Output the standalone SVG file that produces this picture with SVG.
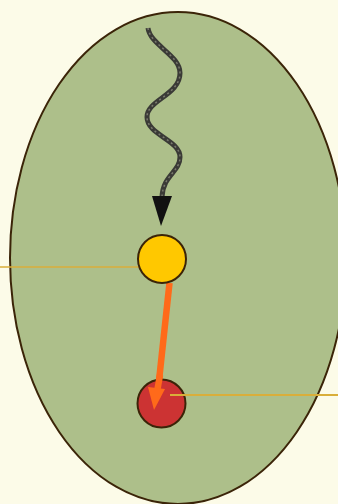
<svg xmlns="http://www.w3.org/2000/svg" width="338" height="504" viewBox="0 0 338 504">
<defs>
<style>
.node{stroke:#3b2408;stroke-width:2}
.lead{stroke:#d9ae3a;stroke-width:2;fill:none}
.wave{fill:none}
</style>
</defs>
<rect width="338" height="504" fill="#fcfbe8"/>
<g id="cell">
<ellipse cx="178" cy="258" rx="168" ry="246" fill="#adbf8a" stroke="#3b2408" stroke-width="2"/>
</g>
<g id="connectors">
<line class="lead" x1="0" y1="267" x2="140" y2="267" opacity="0.75"/>
<line class="lead" x1="170" y1="395" x2="338" y2="395"/>
<path class="wave" d="M148,28 C150,45 180,55 180,73 C180,95 147,100 147,117 C147,135 180,140 180,157 C180,172 163,175 162,197" stroke="#3a3a36" stroke-width="5"/>
<path class="wave" d="M148,28 C150,45 180,55 180,73 C180,95 147,100 147,117 C147,135 180,140 180,157 C180,172 163,175 162,197" stroke="#7a7a6e" stroke-width="1.5" stroke-dasharray="2 3"/>
<polygon points="152,196 172,196 161,226" fill="#111"/>
<line x1="169.5" y1="283" x2="158" y2="390" stroke="#ff6a1a" stroke-width="6.5"/>
</g>
<g id="photon-absorber">
<circle class="node" cx="162" cy="259" r="24" fill="#ffc800"/>
</g>
<g id="acceptor">
<circle class="node" cx="161.5" cy="403.5" r="24" fill="#cc3333"/>
</g>
<line class="lead" x1="170" y1="395" x2="186" y2="395"/>
<line x1="160" y1="375" x2="157" y2="392" stroke="#ff6a1a" stroke-width="6.5"/>
<polygon points="148,387 165,389 154,410" fill="#ff6a1a"/>
</svg>
